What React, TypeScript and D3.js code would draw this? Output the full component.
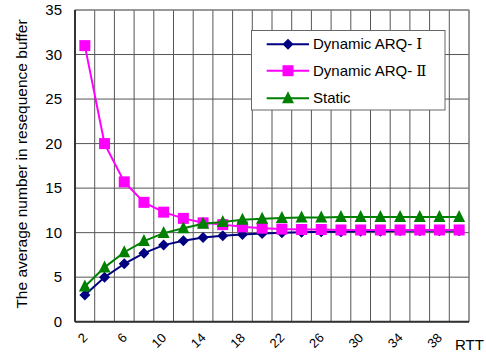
import React from "react";
import * as d3 from "d3";

const rtt = [2, 4, 6, 8, 10, 12, 14, 16, 18, 20, 22, 24, 26, 28, 30, 32, 34, 36, 38, 40];
const dynamic1 = [3.0, 5.0, 6.5, 7.7, 8.6, 9.1, 9.45, 9.65, 9.8, 9.9, 10.0, 10.05, 10.1, 10.1, 10.15, 10.15, 10.2, 10.2, 10.2, 10.2];
const dynamic2 = [31.0, 20.0, 15.7, 13.4, 12.3, 11.6, 11.1, 10.9, 10.65, 10.5, 10.4, 10.35, 10.35, 10.3, 10.3, 10.3, 10.3, 10.3, 10.3, 10.3];
const staticS = [3.95, 6.1, 7.8, 9.05, 9.95, 10.5, 11.0, 11.2, 11.45, 11.55, 11.65, 11.7, 11.7, 11.75, 11.75, 11.75, 11.75, 11.75, 11.75, 11.75];
const yTicks = [0, 5, 10, 15, 20, 25, 30, 35];
const xTickLabels = [2, 6, 10, 14, 18, 22, 26, 30, 34, 38];
const seriesNames = ["Dynamic ARQ-", "Dynamic ARQ-", "Static"];
const seriesNumerals = ["Ⅰ", "Ⅱ", ""];

const W = 486, H = 358;
const left = 75, right = 469, top = 10, bottom = 321.7;
const FONT = "'Liberation Sans', Arial, 'Noto Sans CJK JP', sans-serif";

export default function App() {
  const x = d3.scaleBand<number>().domain(rtt).range([left, right]).padding(0);
  const y = d3.scaleLinear().domain([0, 35]).range([bottom, top]);
  const cx = (v: number) => (x(v) as number) + x.bandwidth() / 2;
  const line = d3.line<number>().x((_, i) => cx(rtt[i])).y((d) => y(d));

  const series = [
    { data: dynamic1, color: "#000080", marker: "diamond" },
    { data: dynamic2, color: "#FF00FF", marker: "square" },
    { data: staticS, color: "#008000", marker: "triangle" },
  ];

  const marker = (type: string, px: number, py: number, color: string, key: any) => {
    if (type === "diamond") {
      const s = 5.5;
      return <path key={key} d={`M${px},${py - s}L${px + s},${py}L${px},${py + s}L${px - s},${py}Z`} fill={color} />;
    }
    if (type === "square") {
      const s = 5.5;
      return <rect key={key} x={px - s} y={py - s} width={2 * s} height={2 * s} fill={color} />;
    }
    const s = 6;
    return <path key={key} d={`M${px},${py - s - 1}L${px + s},${py + s - 1}L${px - s},${py + s - 1}Z`} fill={color} />;
  };

  const gridX = d3.range(rtt.length + 1).map((i) => left + i * x.bandwidth());

  const legX = 251.5, legY = 30.5, legW = 193.5, legH = 79.5;
  const legRows = [44.3, 70.7, 98.3];

  return (
    <svg width={W} height={H} style={{ position: "absolute", left: 0, top: 0, background: "#fff" }} fontFamily={FONT}>
      <rect x={0} y={0} width={W} height={H} fill="#fff" />
      {gridX.map((gx, i) => (
        <line key={"gx" + i} x1={gx} x2={gx} y1={top} y2={bottom} stroke="#555" strokeWidth={1} />
      ))}
      {yTicks.map((t) => (
        <line key={"gy" + t} x1={left} x2={right} y1={y(t)} y2={y(t)} stroke="#555" strokeWidth={1} />
      ))}
      <rect x={left} y={top} width={right - left} height={bottom - top} fill="none" stroke="#888" strokeWidth={1} />
      <line x1={left} x2={left} y1={top} y2={bottom} stroke="#333" strokeWidth={2} />
      <line x1={left} x2={right} y1={bottom} y2={bottom} stroke="#333" strokeWidth={2} />
      {yTicks.map((t) => (
        <text key={"yl" + t} x={62} y={y(t) + 5} textAnchor="end" fontSize={15} fill="#000">
          {t}
        </text>
      ))}
      {xTickLabels.map((v) => {
        const px = cx(v) + 3.5;
        const py = 338.5;
        return (
          <text key={"xl" + v} x={px} y={py} textAnchor="end" fontSize={13} fill="#000" transform={`rotate(-45 ${px} ${py})`}>
            {v}
          </text>
        );
      })}
      <text x={455} y={350} fontSize={15} fill="#000">RTT</text>
      <text transform={`translate(26.5 164) rotate(-90)`} textAnchor="middle" fontSize={15.5} fill="#000">
        The average number in resequence buffer
      </text>
      {series.map((s, si) => (
        <g key={"s" + si}>
          <path d={line(s.data) as string} fill="none" stroke={s.color} strokeWidth={2} />
          {s.data.map((v, i) => marker(s.marker, cx(rtt[i]), y(v), s.color, i))}
        </g>
      ))}
      <rect x={legX} y={legY} width={legW} height={legH} fill="#fff" stroke="#666" strokeWidth={1} />
      {series.map((s, i) => (
        <g key={"lg" + i}>
          <line x1={266.7} x2={309} y1={legRows[i]} y2={legRows[i]} stroke={s.color} strokeWidth={2} />
          {marker(s.marker, 288, legRows[i], s.color, "m")}
          <text x={313} y={legRows[i] + 5} fontSize={15} fill="#000">
            {seriesNames[i]}
            {seriesNumerals[i] && (
              <tspan fontFamily="'DejaVu Serif', 'Noto Sans CJK JP', serif" dx={4}>{seriesNumerals[i]}</tspan>
            )}
          </text>
        </g>
      ))}
    </svg>
  );
}
